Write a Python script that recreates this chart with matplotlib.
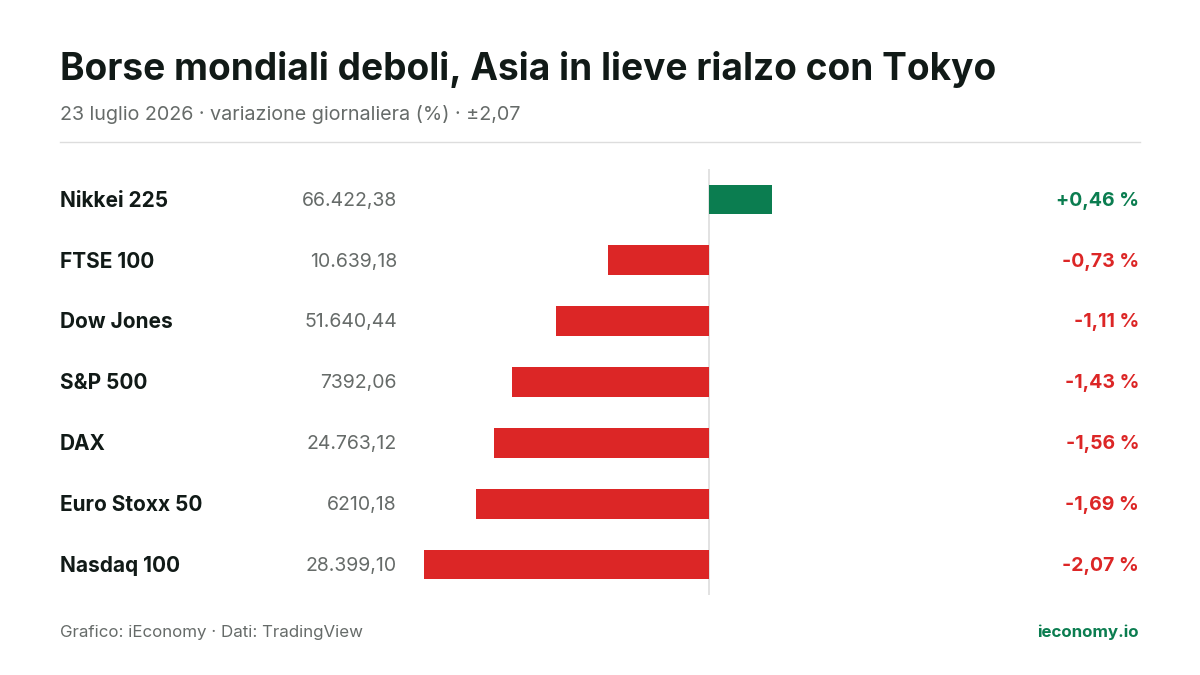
import matplotlib.pyplot as plt
from matplotlib.transforms import blended_transform_factory

plt.rcParams['font.family'] = ['Inter', 'DejaVu Sans']

names = ["Nikkei 225", "FTSE 100", "Dow Jones", "S&P 500", "DAX", "Euro Stoxx 50", "Nasdaq 100"]
levels = ["66.422,38", "10.639,18", "51.640,44", "7392,06", "24.763,12", "6210,18", "28.399,10"]
changes = [0.46, -0.73, -1.11, -1.43, -1.56, -1.69, -2.07]

GREEN = "#0b7d50"
RED = "#dc2626"
DARK = "#111a17"
GRAY = "#666b69"

W, H = 1200, 675
fig = plt.figure(figsize=(W / 100, H / 100), dpi=100)
fig.patch.set_facecolor("white")

def fx(px):
    return px / W

def fy(py):
    return 1 - py / H

fig.text(fx(60), fy(69), "Borse mondiali deboli, Asia in lieve rialzo con Tokyo",
         fontsize=26.7, fontweight="bold", color=DARK, va="center")
fig.text(fx(60), fy(115), "23 luglio 2026 · variazione giornaliera (%) · ±2,07",
         fontsize=14.2, color=GRAY, va="center")
fig.add_artist(plt.Line2D([fx(60), fx(1140)], [fy(142), fy(142)], color="#dddddd", lw=1))

# bar axes: x spans min..max change, rows 0..6
ax = fig.add_axes([fx(424), fy(595), fx(772) - fx(424), (595 - 169) / H])
ax.set_xlim(min(changes), max(changes))
ax.set_ylim(len(names) - 0.5, -0.5)
ax.axis("off")
colors = [GREEN if c >= 0 else RED for c in changes]
ax.barh(range(len(names)), changes, height=0.49, color=colors)
ax.axvline(0, color="#dddddd", lw=1.2, zorder=0)

tr = blended_transform_factory(fig.transFigure, ax.transData)
for i, (n, lv, c) in enumerate(zip(names, levels, changes)):
    ax.text(fx(60), i + 0.02, n, transform=tr, fontsize=15, fontweight="bold", color=DARK,
            va="center", ha="left", clip_on=False)
    ax.text(fx(397), i + 0.02, lv, transform=tr, fontsize=14, color=GRAY,
            va="center", ha="right", clip_on=False)
    s = ("+" if c >= 0 else "-") + f"{abs(c):.2f}".replace(".", ",") + " %"
    ax.text(fx(1139), i + 0.02, s, transform=tr, fontsize=14, fontweight="bold",
            color=GREEN if c >= 0 else RED, va="center", ha="right", clip_on=False)

fig.text(fx(60), fy(632), "Grafico: iEconomy · Dati: TradingView", fontsize=12.2, color=GRAY, va="center")
fig.text(fx(1139), fy(632), "ieconomy.io", fontsize=12.2, fontweight="bold", color=GREEN,
         va="center", ha="right")

fig.savefig("out.png", dpi=100, facecolor="white")
